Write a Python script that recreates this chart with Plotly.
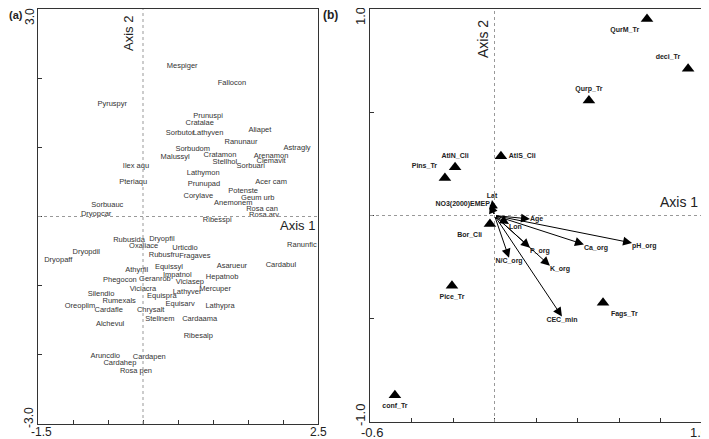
import plotly.graph_objects as go

# ---- panel (a): species scores ----
species = ["Mespiger", "Fallocon", "Pyruspyr", "Prunuspi", "Cratalae", "Sorbutor", "Lathyven",
           "Aliapet", "Ranunaur", "Sorbudom", "Astragly", "Malussyl", "Cratamon", "Arenamon",
           "Clemavit", "Stellhol", "Sorbuari", "Ilex aqu", "Lathymon", "Pteriaqu", "Prunupad",
           "Acer cam", "Potenste", "Corylave", "Geum urb", "Anemonem", "Rosa can", "Rosa arv",
           "Ribesspi", "Sorbuauc", "Dryopcar", "Ranunfic", "Cardabul", "Rubusida", "Dryopfil",
           "Oxaliace", "Urticdio", "Rubusfru", "Fragaves", "Dryopdil", "Dryopaff", "Asarueur",
           "Athyrfil", "Equissyl", "Impatnol", "Hepatnob", "Phegocon", "Geranrob", "Viciasep",
           "Viciacra", "Silendio", "Lathyver", "Mercuper", "Equispra", "Rumexals", "Equisarv",
           "Lathypra", "Oreoplim", "Cardafle", "Chrysalt", "Stellnem", "Cardaama", "Alchevul",
           "Ribesalp", "Aruncdio", "Cardapen", "Cardahep", "Rosa pen"]
sp_ax1 = [0.56, 1.27, -0.44, 0.93, 0.81, 0.53, 0.93,
          1.67, 1.40, 0.71, 2.20, 0.46, 1.10, 1.83,
          1.83, 1.17, 1.54, -0.10, 0.86, -0.14, 0.87,
          1.83, 1.43, 0.79, 1.64, 1.29, 1.70, 1.73,
          1.06, -0.51, -0.67, 2.27, 1.97, -0.20, 0.27,
          0.01, 0.60, 0.30, 0.74, -0.81, -1.21, 1.27,
          -0.09, 0.37, 0.49, 1.13, -0.33, 0.17, 0.67,
          0.00, -0.60, 0.63, 1.03, 0.27, -0.34, 0.53,
          1.10, -0.90, -0.49, 0.11, 0.24, 0.81, -0.47,
          0.79, -0.54, 0.09, -0.33, -0.10]
sp_ax2 = [2.18, 1.93, 1.62, 1.45, 1.35, 1.20, 1.20,
          1.25, 1.07, 0.97, 0.99, 0.86, 0.89, 0.87,
          0.80, 0.79, 0.73, 0.73, 0.62, 0.50, 0.47,
          0.50, 0.37, 0.29, 0.27, 0.19, 0.10, 0.02,
          -0.05, 0.17, 0.03, -0.42, -0.70, -0.34, -0.32,
          -0.43, -0.46, -0.56, -0.57, -0.52, -0.63, -0.72,
          -0.77, -0.73, -0.85, -0.87, -0.92, -0.90, -0.95,
          -1.05, -1.12, -1.09, -1.05, -1.15, -1.23, -1.26,
          -1.30, -1.30, -1.36, -1.36, -1.48, -1.48, -1.56,
          -1.73, -2.02, -2.03, -2.12, -2.23]

# ---- panel (b): supplementary classes (triangles) ----
classes = ["QurM_Tr", "deci_Tr", "Qurp_Tr", "AtlS_Cli", "AtlN_Cli", "Pins_Tr",
           "Bor_Cli", "Pice_Tr", "Fags_Tr", "conf_Tr"]
cl_ax1 = [0.735, 0.933, 0.455, 0.031, -0.190, -0.239, -0.022, -0.205, 0.523, -0.480]
cl_ax2 = [0.952, 0.711, 0.557, 0.287, 0.234, 0.181, -0.041, -0.340, -0.422, -0.870]
cl_pos = ["bottom left", "top left", "top center", "middle right", "top center", "top left",
          "bottom left", "bottom center", "bottom right", "bottom center"]

# ---- panel (b): environmental variables (arrows) ----
env_vars = ["Lat", "NO3(2000)EMEP", "Age", "Ca_org", "pH_org", "Lon",
            "P_org", "K_org", "N/C_org", "CEC_min"]
env_ax1 = [-0.012, -0.022, 0.171, 0.431, 0.663, 0.070, 0.171, 0.267, 0.070, 0.325]
env_ax2 = [0.075, 0.055, -0.017, -0.140, -0.133, -0.041, -0.156, -0.243, -0.205, -0.489]
env_pos = ["top center", "middle left", "middle right", "bottom right", "bottom right",
           "bottom right", "bottom right", "bottom right", "bottom center", "bottom center"]

FONT = "Arial, Liberation Sans, sans-serif"
OFF = 8                      # the page puts an 8px margin round the plot div
W, H = 709 - OFF, 439 - OFF


def fx(px):
    return min(max((px - OFF) / W, 0), 1)


def fy(py):
    return min(max(1 - (py - OFF) / H, 0), 1)


fig = go.Figure()

fig.add_trace(go.Scatter(x=sp_ax1, y=sp_ax2, mode="text", text=species,
                         textfont=dict(family=FONT, size=7.5, color="#333333"),
                         xaxis="x", yaxis="y", showlegend=False, hoverinfo="text"))

fig.add_trace(go.Scatter(x=cl_ax1, y=cl_ax2, mode="markers+text", text=classes,
                         textposition=cl_pos,
                         marker=dict(symbol="triangle-up", size=11, color="black"),
                         textfont=dict(family=FONT, size=7, color="#222222", weight="bold"),
                         xaxis="x2", yaxis="y2", showlegend=False))

fig.add_trace(go.Scatter(x=env_ax1, y=env_ax2, mode="text", text=env_vars,
                         textposition=env_pos,
                         textfont=dict(family=FONT, size=7, color="#222222", weight="bold"),
                         xaxis="x2", yaxis="y2", showlegend=False))

annotations = []
for xv, yv in zip(env_ax1, env_ax2):
    annotations.append(dict(x=xv, y=yv, ax=0, ay=0, xref="x2", yref="y2",
                            axref="x2", ayref="y2", text="", showarrow=True,
                            arrowhead=2, arrowsize=1.8, arrowwidth=1, arrowcolor="black"))


def ptxt(txt, px, py, size, angle=0, bold=False):
    annotations.append(dict(x=fx(px), y=fy(py), xref="paper", yref="paper",
                            text=f"<b>{txt}</b>" if bold else txt, showarrow=False,
                            textangle=angle, xanchor="center", yanchor="middle",
                            font=dict(family=FONT, size=size, color="#222222")))


# panel letters
ptxt("(a)", 16, 15, 11, bold=True)
ptxt("(b)", 330, 15, 12, bold=True)
# axis names
ptxt("Axis 2", 128, 34, 13, angle=-90)
ptxt("Axis 1", 297, 225, 13)
ptxt("Axis 2", 483, 39, 14, angle=-90)
ptxt("Axis 1", 679, 202, 14)
# extreme tick labels
ptxt("3.0", 30, 17, 12, angle=-90)
ptxt("-3.0", 29, 418, 12, angle=-90)
ptxt("-1.5", 41, 432, 12)
ptxt("2.5", 318, 432, 12)
ptxt("1.0", 360, 16, 13, angle=-90)
ptxt("-1.0", 360, 415, 13, angle=-90)
ptxt("-0.6", 372, 432, 13)
ptxt("1.0", 699, 432, 13)

shapes = []
for xr, yr, (x0, x1), (y0, y1) in [("x", "y", (-1.5, 2.5), (-3, 3)),
                                   ("x2", "y2", (-0.6, 1.0), (-1, 1))]:
    shapes.append(dict(type="line", xref=xr, yref=yr, x0=0, x1=0, y0=y0, y1=y1,
                       line=dict(color="#999999", width=1, dash="dot")))
    shapes.append(dict(type="line", xref=xr, yref=yr, x0=x0, x1=x1, y0=0, y1=0,
                       line=dict(color="#999999", width=1, dash="dot")))

axis_common = dict(showgrid=False, zeroline=False, showline=True, mirror=True,
                   linecolor="#333333", linewidth=1, ticks="inside", ticklen=4,
                   tickcolor="#333333", showticklabels=False)

fig.update_layout(
    width=W, height=H, margin=dict(l=0, r=0, t=0, b=0),
    paper_bgcolor="white", plot_bgcolor="white",
    xaxis=dict(domain=[fx(38), fx(318)], range=[-1.5, 2.5],
               tickvals=[-1.5, -1, -0.5, 0, 0.5, 1, 1.5, 2, 2.5], anchor="y", **axis_common),
    yaxis=dict(domain=[fy(424), fy(9)], range=[-3, 3],
               tickvals=[-3, -2, -1, 0, 1, 2, 3], anchor="x", **axis_common),
    xaxis2=dict(domain=[fx(370), fx(702)], range=[-0.6, 1.0],
                tickvals=[-0.6, -0.4, -0.2, 0, 0.2, 0.4, 0.6, 0.8, 1.0], anchor="y2", **axis_common),
    yaxis2=dict(domain=[fy(422), fy(9)], range=[-1, 1],
                tickvals=[-1, -0.5, 0, 0.5, 1], anchor="x2", **axis_common),
    annotations=annotations, shapes=shapes,
)

fig.write_html("out.html")
